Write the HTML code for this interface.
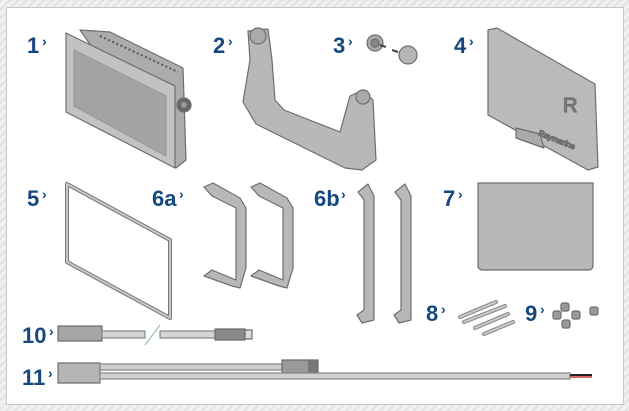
<!DOCTYPE html>
<html><head><meta charset="utf-8"><style>
html,body{margin:0;padding:0;width:629px;height:411px;overflow:hidden;background:#e9e9e9}
svg{display:block}
text{font-family:"Liberation Sans",sans-serif;font-weight:bold;fill:#15487f}
</style></head><body>
<svg width="629" height="411" viewBox="0 0 629 411" xmlns="http://www.w3.org/2000/svg">
<defs>
<pattern id="h" width="6" height="6" patternUnits="userSpaceOnUse" patternTransform="rotate(45)">
<rect width="6" height="6" fill="#f1f1f1"/><rect width="2" height="6" fill="#e2e2e2"/></pattern>
</defs>
<rect width="629" height="411" fill="url(#h)"/>
<rect x="6.5" y="7.5" width="617" height="397" fill="#fff" stroke="#c8c8c8"/>
<g stroke="#6e6e6e" stroke-width="1.2" stroke-linejoin="round">
<polygon points="80,30 110,32 183,68 186,160 176,168" fill="#acacac"/>
<g stroke="#555" stroke-width="2">
<line x1="100" y1="36" x2="178" y2="72" stroke-dasharray="2,2.5"/></g>
<polygon points="66,33 175,86 175,168 66,112" fill="#c2c2c2"/>
<polygon points="74,50 166,96 166,156 74,106" fill="#a3a3a3" stroke="#999"/>
<circle cx="184" cy="105" r="7" fill="#666"/><circle cx="184" cy="105" r="3.5" fill="#999"/>
<polygon points="248,31 268,29 272,60 275,100 284,110 340,132 350,96 363,90 373,100 376,160 362,170 345,168 256,124 243,102 250,60" fill="#b8b8b8"/>
<circle cx="258" cy="36" r="8" fill="#aaa"/><circle cx="363" cy="97" r="7" fill="#aaa"/>
<circle cx="375" cy="43" r="8" fill="#aaa"/><circle cx="375" cy="43" r="4" fill="#888"/>
<line x1="380" y1="45" x2="386" y2="47" stroke="#444" stroke-width="2"/>
<line x1="392" y1="50" x2="398" y2="52" stroke="#444" stroke-width="2"/>
<ellipse cx="408" cy="55" rx="9" ry="9" fill="#b5b5b5"/>
<polygon points="488,30 497,28 595,84 598,167 588,170 488,115" fill="#bababa"/>
<polygon points="516,128 540,134 544,148 516,138" fill="#aaa"/>
<text x="563" y="112" font-size="20" style="fill:#8a8a8a;font-weight:normal">R</text>
<text x="538" y="135" font-size="8" transform="rotate(22 538 135)" style="fill:#eee;font-weight:normal">Raymarine</text>
<polygon points="67,184 170,240 170,318 67,262" fill="none" stroke="#777" stroke-width="4"/>
<polygon points="67,184 170,240 170,318 67,262" fill="none" stroke="#c8c8c8" stroke-width="2"/>
<g fill="#b8b8b8">
<path d="M204,187 L213,183 L240,198 L246,208 L246,268 L240,288 L232,286 L204,276 L212,270 L236,280 L236,208 L212,196 Z"/>
<path d="M251,187 L260,183 L287,198 L293,208 L293,268 L287,288 L279,286 L251,276 L259,270 L283,280 L283,208 L259,196 Z"/>
<path d="M358,192 L368,184 L374,196 L374,320 L362,323 L357,315 L364,310 L364,200 Z"/>
<path d="M395,192 L405,184 L411,196 L411,320 L399,323 L394,315 L401,310 L401,200 Z"/>
</g>
<path d="M478,183 H593 V265 Q593,270 588,270 H483 Q478,270 478,265 Z" fill="#b8b8b8"/>
<g stroke="#888" stroke-width="4" stroke-linecap="round">
<line x1="460" y1="317" x2="496" y2="302"/><line x1="464" y1="322" x2="505" y2="306"/>
<line x1="475" y1="328" x2="508" y2="314"/><line x1="484" y1="334" x2="513" y2="322"/></g>
<g stroke="#ccc" stroke-width="2" stroke-linecap="round">
<line x1="460" y1="317" x2="496" y2="302"/><line x1="464" y1="322" x2="505" y2="306"/>
<line x1="475" y1="328" x2="508" y2="314"/><line x1="484" y1="334" x2="513" y2="322"/></g>
<g fill="#999"><rect x="561" y="303" width="8" height="8" rx="2"/><rect x="553" y="311" width="8" height="8" rx="2"/>
<rect x="572" y="311" width="8" height="8" rx="2"/><rect x="562" y="320" width="8" height="8" rx="2"/><rect x="590" y="307" width="8" height="8" rx="2"/></g>
<rect x="58" y="326" width="44" height="15" fill="#a5a5a5"/>
<rect x="102" y="331" width="43" height="7" fill="#d5d5d5" stroke="#888"/>
<rect x="160" y="331" width="55" height="7" fill="#d5d5d5" stroke="#888"/>
<line x1="145" y1="345" x2="160" y2="325" stroke="#9bb" fill="none"/>
<rect x="215" y="329" width="30" height="11" fill="#8a8a8a"/>
<rect x="245" y="330" width="7" height="9" fill="#ddd"/>
<rect x="58" y="363" width="42" height="20" fill="#b5b5b5"/>
<rect x="100" y="364" width="182" height="6" fill="#d0d0d0" stroke="#888"/>
<rect x="282" y="360" width="27" height="13" fill="#999"/><rect x="309" y="360" width="9" height="13" fill="#777"/>
<rect x="100" y="373" width="470" height="6" fill="#d0d0d0" stroke="#888"/>
</g>
<line x1="570" y1="375" x2="592" y2="375" stroke="#222" stroke-width="2"/>
<line x1="570" y1="377" x2="592" y2="377" stroke="#c33" stroke-width="1.5"/>
<g font-size="22">
<text x="27" y="53">1</text><text x="213" y="53">2</text><text x="333" y="53">3</text><text x="454" y="53">4</text>
<text x="27" y="206">5</text><text x="152" y="206">6a</text><text x="314" y="206">6b</text><text x="443" y="206">7</text>
<text x="426" y="321">8</text><text x="525" y="321">9</text>
<text x="22" y="343">10</text><text x="22" y="385">11</text>
</g>
<g font-size="14">
<text x="42" y="46">›</text><text x="228" y="46">›</text><text x="348" y="46">›</text><text x="469" y="46">›</text>
<text x="42" y="199">›</text><text x="179" y="199">›</text><text x="341" y="199">›</text><text x="458" y="199">›</text>
<text x="441" y="314">›</text><text x="540" y="314">›</text><text x="49" y="336">›</text><text x="48" y="378">›</text>
</g>
</svg>
</body></html>
